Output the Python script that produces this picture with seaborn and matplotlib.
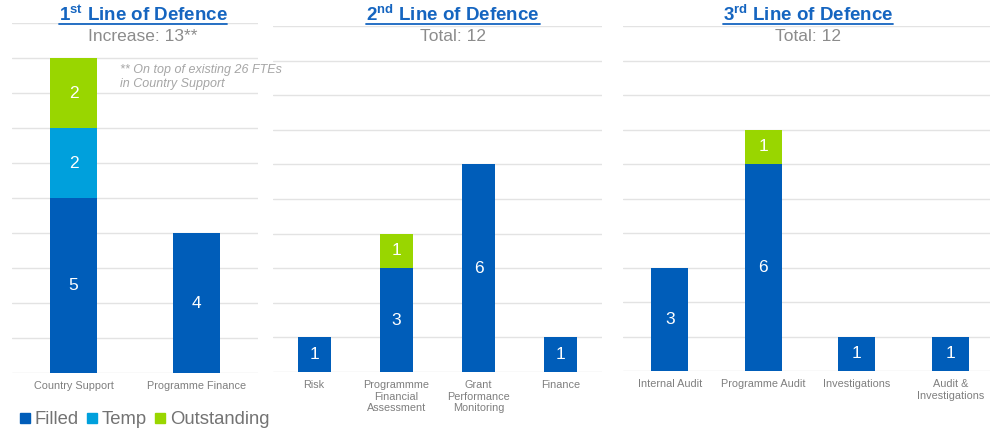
import matplotlib
matplotlib.use("Agg")
import matplotlib.pyplot as plt
import seaborn as sns
import pandas as pd
from matplotlib.lines import Line2D

sns.set_theme(style="white")
plt.rcParams['font.family'] = ['Liberation Sans', 'DejaVu Sans']
plt.rcParams['mathtext.fontset'] = 'custom'
plt.rcParams['mathtext.rm'] = 'Liberation Sans'
plt.rcParams['mathtext.bf'] = 'Liberation Sans:bold'

# ---- data ----
cats1 = ["Country Support", "Programme Finance"]
filled1 = [5, 4]
temp1 = [2, 0]
outst1 = [2, 0]

cats2 = ["Risk", "Programmme\nFinancial\nAssessment", "Grant\nPerformance\nMonitoring", "Finance"]
filled2 = [1, 3, 6, 1]
temp2 = [0, 0, 0, 0]
outst2 = [0, 1, 0, 0]

cats3 = ["Internal Audit", "Programme Audit", "Investigations", "Audit &\nInvestigations"]
filled3 = [3, 6, 1, 1]
temp3 = [0, 0, 0, 0]
outst3 = [0, 1, 0, 0]

titles = [r"1$^{\mathbf{st}}$ Line of Defence", r"2$^{\mathbf{nd}}$ Line of Defence", r"3$^{\mathbf{rd}}$ Line of Defence"]
subtitles = ["Increase: 13**", "Total: 12", "Total: 12"]
note = "** On top of existing 26 FTEs\nin Country Support"

C_FILLED = "#005DB9"
C_TEMP = "#00A0DC"
C_OUT = "#99D600"
GRID = "#E3E3E3"
TXT = "#7F7F7F"
TITLE_C = "#1565C0"

W, H = 990, 432
fig = plt.figure(figsize=(W / 100, H / 100), dpi=100)

def px(x0, y_top, x1, y_bot):
    return [x0 / W, 1 - y_bot / H, (x1 - x0) / W, (y_bot - y_top) / H]

axes_specs = [px(12, 23, 258, 373), px(273, 26, 602, 372), px(623, 26, 997, 371)]
widths = [0.38, 0.4, 0.4]
panels = [(cats1, filled1, temp1, outst1), (cats2, filled2, temp2, outst2), (cats3, filled3, temp3, outst3)]
title_cx = [143, 453, 808]

for i, (spec, (cats, fl, tp, ou)) in enumerate(zip(axes_specs, panels)):
    ax = fig.add_axes(spec)
    df = pd.DataFrame({"cat": cats, "filled": fl, "temp": tp, "out": ou})
    df["ft"] = df["filled"] + df["temp"]
    df["total"] = df["ft"] + df["out"]
    for col, c in [("total", C_OUT), ("ft", C_TEMP), ("filled", C_FILLED)]:
        sns.barplot(data=df, x="cat", y=col, order=cats, color=c, width=widths[i],
                    saturation=1, ax=ax, linewidth=0, zorder=3)
    # value labels
    for j, r in df.iterrows():
        segs = [(0, r["filled"]), (r["filled"], r["temp"]), (r["ft"], r["out"])]
        for b, v in segs:
            if v > 0:
                ax.text(j, b + v / 2, f"{int(v)}", ha="center", va="center",
                        color="white", fontsize=12.5, zorder=5)
    ax.set_ylim(0, 10)
    ax.set_yticks(range(11))
    ax.set_yticklabels([])
    ax.grid(axis="y", color=GRID, linewidth=1, zorder=0)
    ax.grid(axis="x", visible=False)
    for s in ax.spines.values():
        s.set_visible(False)
    ax.tick_params(axis="both", length=0)
    ax.tick_params(axis="x", pad=6, labelsize=7.8, labelcolor=TXT)
    for lab in ax.get_xticklabels():
        lab.set_linespacing(1.15)
        lab.set_va("top")
    ax.set_xlabel("")
    ax.set_ylabel("")

    # titles
    t = fig.text(title_cx[i] / W, 1 - 21 / H, titles[i], ha="center", va="baseline",
                 fontsize=13.5, fontweight="bold", color=TITLE_C)
    fig.text(title_cx[i] / W, 1 - 41 / H, subtitles[i], ha="center", va="baseline",
             fontsize=12.5, color="#8C8C8C")
    fig.canvas.draw()
    bb = t.get_window_extent()
    fig.add_artist(Line2D([bb.x0 / W, bb.x1 / W], [(H - 23.5) / H] * 2,
                          transform=fig.transFigure, color=TITLE_C, linewidth=1.3))

fig.text(120 / W, 1 - 64 / H, note, ha="left", va="top", fontsize=9,
         style="italic", color="#A6A6A6", linespacing=1.2)

# legend
handles = [Line2D([], [], marker="s", linestyle="", markersize=7, color=c)
           for c in (C_FILLED, C_TEMP, C_OUT)]
leg = fig.legend(handles, ["Filled", "Temp", "Outstanding"], loc="center left",
                 bbox_to_anchor=(19 / W, 1 - 420 / H), ncol=3, frameon=False,
                 fontsize=13.3, handlelength=0.6, handletextpad=0.25,
                 columnspacing=0.4, borderpad=0, borderaxespad=0)
for tx in leg.get_texts():
    tx.set_color("#737373")

fig.savefig("out.png", dpi=100)
